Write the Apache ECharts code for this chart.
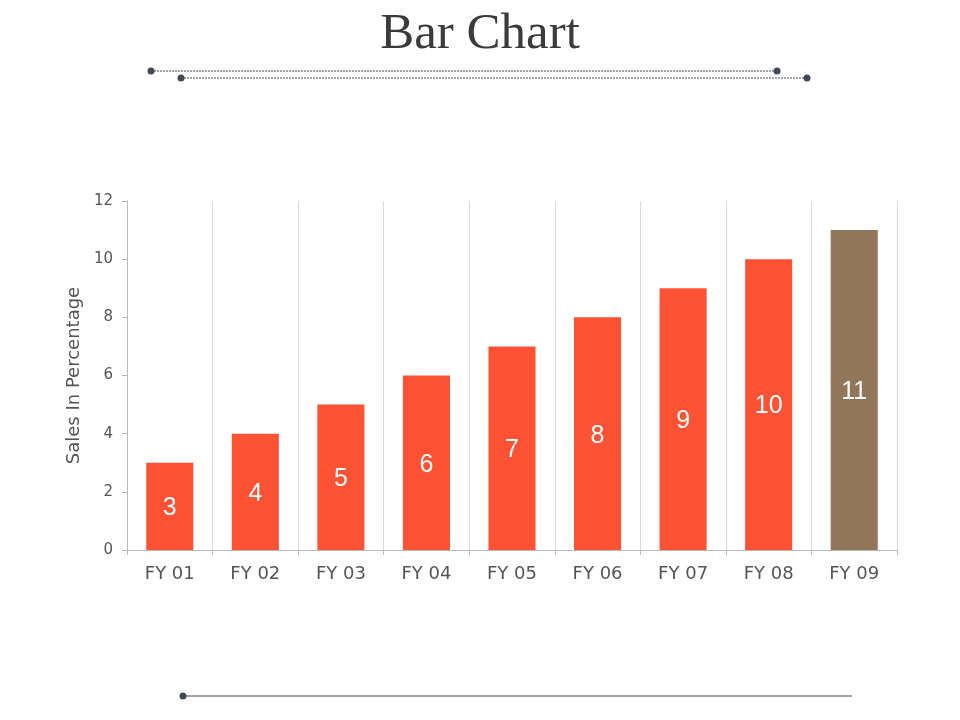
<!DOCTYPE html>
<html>
<head>
<meta charset="utf-8">
<title>Bar Chart</title>
<script src="https://cdn.jsdelivr.net/npm/echarts@6/dist/echarts.min.js"></script>
<style>
  html, body { margin: 0; padding: 0; background: #ffffff; }
  #main { width: 960px; height: 720px; }
</style>
</head>
<body>
<div id="main"></div>
<script>
// chart values
var categories = ['FY 01', 'FY 02', 'FY 03', 'FY 04', 'FY 05', 'FY 06', 'FY 07', 'FY 08', 'FY 09'];
var sales = [3, 4, 5, 6, 7, 8, 9, 10, 11];
var barColors = ['#fe5235', '#fe5235', '#fe5235', '#fe5235', '#fe5235', '#fe5235', '#fe5235', '#fe5235', '#917659'];

var chart = echarts.init(document.getElementById('main'));

// decorative rules round the title and at the foot
var dot = function (x, y) {
  return { type: 'circle', shape: { cx: x, cy: y, r: 3.5 }, style: { fill: '#434a57' } };
};
var rule = function (x1, y1, x2, y2, dashed) {
  return {
    type: 'line',
    shape: { x1: x1, y1: y1, x2: x2, y2: y2 },
    style: { stroke: '#434a57', lineWidth: dashed ? 1 : 1.2, lineDash: dashed ? [2, 1] : null }
  };
};

var option = {
  backgroundColor: '#ffffff',
  animation: false,
  title: {
    text: 'Bar Chart',
    left: 'center',
    top: 4,
    textStyle: { fontFamily: 'Liberation Serif', fontSize: 51, fontWeight: 'normal', color: '#3b3b3b' }
  },
  graphic: [
    rule(151, 71, 777, 71, true), dot(151, 71), dot(777, 71),
    rule(181, 78, 807, 78, true), dot(181, 78), dot(807, 78),
    rule(183, 696, 852, 696, false), dot(183, 696)
  ],
  grid: { left: 127, right: 63, top: 201, bottom: 170 },
  xAxis: {
    type: 'category',
    data: categories,
    axisLine: { lineStyle: { color: '#b8b8b8' } },
    axisTick: { show: true, length: 5, lineStyle: { color: '#b8b8b8' } },
    axisLabel: { color: '#555555', fontSize: 18, fontFamily: 'DejaVu Sans', margin: 15 },
    splitLine: { show: true, lineStyle: { color: '#d9d9d9' } }
  },
  yAxis: {
    type: 'value',
    min: 0,
    max: 12,
    interval: 2,
    name: 'Sales In Percentage',
    nameLocation: 'middle',
    nameGap: 39,
    nameTextStyle: { color: '#555555', fontSize: 18, fontFamily: 'DejaVu Sans' },
    axisLine: { show: true, lineStyle: { color: '#b8b8b8' } },
    axisTick: { show: true, length: 5, lineStyle: { color: '#b8b8b8' } },
    axisLabel: { color: '#555555', fontSize: 15, fontFamily: 'DejaVu Sans', margin: 14 },
    splitLine: { show: false }
  },
  series: [{
    type: 'bar',
    barWidth: '55%',
    data: sales.map(function (v, i) {
      return { value: v, itemStyle: { color: barColors[i] } };
    }),
    label: {
      show: true,
      position: 'inside',
      offset: [0, 2],
      color: '#ffffff',
      fontSize: 25,
      fontFamily: 'Liberation Sans'
    }
  }]
};

chart.setOption(option);
</script>
</body>
</html>
